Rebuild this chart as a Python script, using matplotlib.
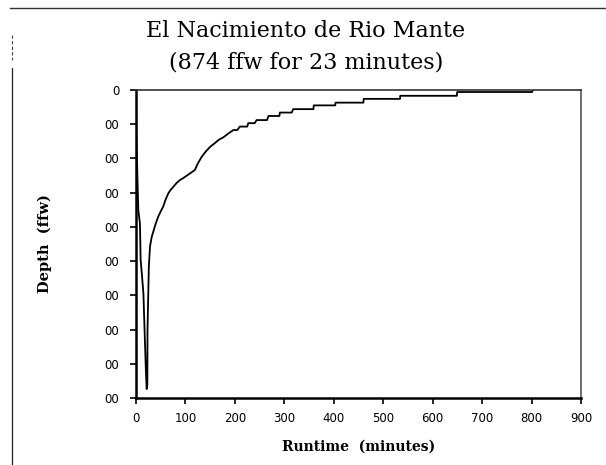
import matplotlib
matplotlib.use("Agg")
import matplotlib.pyplot as plt
from matplotlib.lines import Line2D

# dive profile (runtime in minutes, depth in ffw)
runtime = [0, 0.3, 0.6, 1.5, 3, 4.7, 8, 9.4, 12, 15, 18, 20, 21.6, 23, 23.3,
           26, 28.3, 31.7, 35, 40, 45, 50, 55, 60, 65.4, 70, 75.5, 82, 89,
           96, 103, 109, 115, 119, 125, 133, 141, 150, 158, 167, 177, 187,
           197, 205, 210, 225, 227, 240, 244, 265, 268, 290, 291, 315, 318,
           359, 359.5, 403, 403.5, 460, 460.5, 534, 534.5, 649, 649.5, 801, 803]
depth = [0, 88, 120, 175, 260, 351, 390, 497, 540, 594, 731, 819, 874, 860, 700,
         517, 458, 430, 414, 390, 370, 355, 341, 320, 302, 292, 283, 272, 263,
         257, 250, 244, 238, 234, 215, 195, 180, 166, 157, 146, 138, 127,
         117, 117, 107, 107, 97, 97, 88, 88, 76, 76, 66, 66, 56,
         56, 45, 45, 37, 37, 26, 26, 17, 17, 6, 6, 0]

x_ticks = [0, 100, 200, 300, 400, 500, 600, 700, 800, 900]
y_ticks = [0, 100, 200, 300, 400, 500, 600, 700, 800, 900]
# left part of the depth labels is cut off in the original
y_tick_labels = ["0", "00", "00", "00", "00", "00", "00", "00", "00", "00"]

fig = plt.figure(figsize=(6.06, 4.65), dpi=100)
ax = fig.add_axes([0.2244, 0.1441, 0.7343, 0.6624])

ax.plot(runtime, depth, color="black", linewidth=1.3)

ax.set_xlim(0, 900)
ax.set_ylim(900, 0)
ax.set_xticks(x_ticks)
ax.set_yticks(y_ticks)
ax.set_yticklabels(y_tick_labels)

ax.tick_params(axis="both", direction="out", length=4, width=1.2,
               labelsize=8.5, colors="black")
ax.tick_params(axis="x", pad=6)
ax.tick_params(axis="y", pad=8)
for lab in ax.get_xticklabels() + ax.get_yticklabels():
    lab.set_family("DejaVu Sans")

ax.spines["left"].set_linewidth(1.8)
ax.spines["bottom"].set_linewidth(1.8)
ax.spines["top"].set_linewidth(1.2)
ax.spines["right"].set_linewidth(1.2)
ax.spines["top"].set_color("#333333")
ax.spines["right"].set_color("#555555")

ax.set_xlabel("Runtime  (minutes)", family="DejaVu Serif", fontweight="bold",
              fontsize=10, labelpad=11)
ax.set_ylabel("Depth  (ffw)", family="DejaVu Serif", fontweight="bold",
              fontsize=10.5, labelpad=38)

fig.text(0.505, 0.9, "El Nacimiento de Rio Mante\n(874 ffw for 23 minutes)",
         ha="center", va="center", family="DejaVu Serif", fontsize=16,
         linespacing=1.55)

# page border lines from the scan
fig.add_artist(Line2D([10 / 606, 1.0], [1 - 8 / 465, 1 - 8 / 465],
                      color="#333333", linewidth=1.0))
fig.add_artist(Line2D([12 / 606, 12 / 606], [1 - 35 / 465, 1 - 60 / 465],
                      color="#444444", linewidth=0.8, linestyle=(0, (3, 2))))
fig.add_artist(Line2D([12 / 606, 12 / 606], [1 - 68 / 465, 0.0],
                      color="#222222", linewidth=0.9))

fig.savefig("out.png", dpi=100)
